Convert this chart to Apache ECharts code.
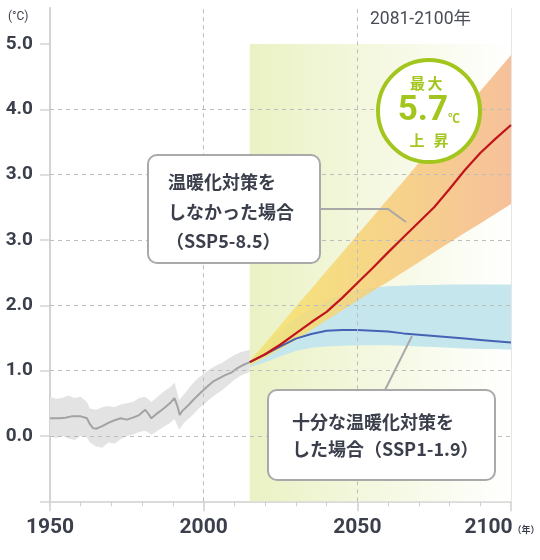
<!DOCTYPE html>
<html><head><meta charset="utf-8">
<script src="https://cdn.jsdelivr.net/npm/echarts@6/dist/echarts.min.js"></script>
<style>html,body{margin:0;padding:0;background:#fff}#c{width:540px;height:560px}</style>
</head><body><div id="c"></div>
<script>
// ---- data ----
const histYears = [1950,1953,1955,1957,1960,1962,1963,1964,1965,1967,1969,1971,1973,1975,1977,1979,1981,1982,1983,1985,1987,1989,1990.5,1991.5,1992.2,1993,1995,1997,1999,2001,2003,2005,2007,2009,2011,2013,2015];
const histMean  = [0.27,0.27,0.28,0.30,0.30,0.27,0.18,0.12,0.11,0.15,0.20,0.24,0.27,0.25,0.28,0.32,0.40,0.34,0.27,0.35,0.42,0.50,0.58,0.45,0.32,0.38,0.47,0.57,0.66,0.75,0.83,0.88,0.93,0.97,1.04,1.09,1.13];
const histBandYears = [1950,1952,1954,1956,1958,1960,1962,1963,1965,1967,1969,1971,1973,1975,1977,1979,1981,1983,1985,1987,1989,1990.5,1992,1994,1996,1998,2000,2002,2004,2006,2008,2010,2012,2015];
const histHigh = [0.60,0.57,0.58,0.62,0.58,0.60,0.52,0.42,0.40,0.44,0.46,0.44,0.48,0.50,0.52,0.58,0.60,0.52,0.60,0.68,0.74,0.82,0.55,0.66,0.78,0.88,0.95,1.02,1.08,1.12,1.18,1.24,1.28,1.32];
const histLow  = [-0.01,-0.03,0.00,-0.04,-0.06,0.00,-0.02,-0.10,-0.16,-0.18,-0.10,-0.12,-0.05,0.00,0.02,0.06,0.08,0.02,0.08,0.14,0.20,0.26,0.10,0.22,0.30,0.40,0.48,0.56,0.64,0.70,0.78,0.86,0.92,0.98];

const projYears = [2015,2020,2025,2030,2035,2040,2045,2050,2055,2060,2065,2070,2075,2080,2085,2090,2095,2100];
const ssp585Mean = [1.13,1.25,1.40,1.57,1.74,1.90,2.11,2.34,2.57,2.81,3.04,3.27,3.50,3.78,4.07,4.33,4.55,4.76];
const ssp585High = [1.15,1.42,1.70,1.98,2.25,2.53,2.80,3.08,3.35,3.63,3.90,4.18,4.45,4.73,5.00,5.28,5.55,5.83];
const ssp585Low  = [1.08,1.20,1.33,1.47,1.62,1.77,1.92,2.07,2.22,2.36,2.51,2.66,2.81,2.96,3.11,3.25,3.40,3.55];
const ssp119Mean = [1.13,1.25,1.37,1.49,1.56,1.61,1.62,1.62,1.61,1.60,1.57,1.55,1.53,1.51,1.49,1.47,1.45,1.43];
const ssp119High = [1.15,1.40,1.62,1.80,1.96,2.08,2.17,2.23,2.27,2.29,2.30,2.31,2.31,2.32,2.32,2.32,2.32,2.32];
const ssp119Low  = [1.05,1.13,1.22,1.30,1.35,1.37,1.38,1.39,1.39,1.39,1.38,1.37,1.36,1.35,1.34,1.33,1.33,1.32];

const yTickValues = [0,1,2,3,4,5,6];
const yTickLabels = ['0.0','1.0','2.0','3.0','3.0','4.0','5.0'];
const gridValues = [0,1,2,3,4,5];
const xGridYears = [2000,2050];
const periodStart = 2015, periodEnd = 2100, periodTop = 6;

// ---- styles ----
const TXT = '#3a3f4b';
const LIME = '#a3c61e';
const FONT_NUM = 'Roboto, "Noto Sans CJK JP", sans-serif';
const FONT_JP = '"Noto Sans CJK JP", sans-serif';

function zip(xs, ys){ return xs.map((x,i)=>[x, ys[i]]); }
function bandSeries(name, years, low, high, fill, z){
  return {
    type:'custom', name, z, silent:true, animation:false,
    data:[[years[0], low[0]]],
    renderItem:function(params, api){
      const pts = [];
      for (let i=0;i<years.length;i++) pts.push(api.coord([years[i], high[i]]));
      for (let i=years.length-1;i>=0;i--) pts.push(api.coord([years[i], low[i]]));
      return {type:'polygon', shape:{points:pts}, style:{fill: fill}};
    }
  };
}

const chart = echarts.init(document.getElementById('c'), null, {renderer:'canvas'});
const option = {
  animation:false,
  backgroundColor:'#fff',
  grid:{left:50, right:29, top:8, bottom:58.7, outerBoundsMode:'none', containLabel:false},
  xAxis:{
    type:'value', min:1950, max:2100, interval:50,
    axisLine:{show:true, onZero:false, lineStyle:{color:'#cfcfcf', width:1.5}},
    axisTick:{show:true, length:10, lineStyle:{color:'#cfcfcf', width:1.5}},
    minorTick:{show:true, splitNumber:5, length:5, lineStyle:{color:'#cfcfcf', width:1}},
    splitLine:{show:false}, minorSplitLine:{show:false},
    axisLabel:{
      margin:16,
      formatter:function(v){ return v===2100 ? '{b|'+v+'}{u|（年）}' : '{b|'+v+'}'; },
      rich:{
        b:{fontSize:21, fontWeight:'bold', color:TXT, fontFamily:FONT_NUM},
        u:{fontSize:9, fontWeight:'bold', color:TXT, fontFamily:FONT_JP, verticalAlign:'middle', padding:[3,18,0,0]}
      }
    }
  },
  yAxis:{
    type:'value', min:-1, max:6.55, interval:1,
    axisLine:{show:true, onZero:false, lineStyle:{color:'#d3d3d3', width:2}},
    axisTick:{show:true, length:10, customValues:[-1].concat(yTickValues), lineStyle:{color:'#d3d3d3', width:1.5}},
    axisLabel:{
      customValues: yTickValues,
      margin:17, fontSize:19, fontWeight:'bold', color:TXT, fontFamily:FONT_NUM,
      formatter:function(v){ const i = yTickValues.indexOf(Math.round(v)); return i>=0 ? yTickLabels[i] : ''; }
    },
    splitLine:{show:false}
  },
  series:[
    {
      type:'line', name:'period', z:1, silent:true, data:[],
      markArea:{
        silent:true,
        itemStyle:{color:new echarts.graphic.LinearGradient(0,0,1,0,[
          {offset:0, color:'rgba(234,242,196,1)'},
          {offset:0.5, color:'rgba(245,248,225,1)'},
          {offset:1, color:'rgba(255,255,255,1)'}
        ])},
        data:[[{xAxis:periodStart, yAxis:periodTop},{xAxis:periodEnd, yAxis:-1}]]
      }
    },
    bandSeries('histBand', histBandYears, histLow, histHigh, '#e3e3e3', 2),
    bandSeries('ssp119Band', projYears, ssp119Low, ssp119High, 'rgba(198,230,238,1)', 2),
    bandSeries('ssp585Band', projYears, ssp585Low, ssp585High, new echarts.graphic.LinearGradient(0,0,1,0,[
      {offset:0, color:'rgba(248,228,104,0.82)'},
      {offset:0.55, color:'rgba(246,204,122,0.85)'},
      {offset:1, color:'rgba(245,184,140,0.88)'}
    ]), 2),
    {
      type:'line', name:'grid', z:3, silent:true, data:[],
      markLine:{
        silent:true, symbol:'none', label:{show:false},
        lineStyle:{color:'#bdbdbd', type:[4,4], width:1},
        data: gridValues.map(v=>({yAxis:v})).concat(xGridYears.map(v=>({xAxis:v})))
                .concat([{xAxis:periodEnd, lineStyle:{color:'#e6e6e6', type:'solid', width:1}}])
      }
    },
    {type:'line', name:'hist', z:4, data:zip(histYears, histMean), showSymbol:false, symbol:'none',
     lineStyle:{color:'#a3a3a3', width:2}},
    {type:'line', name:'SSP1-1.9', z:4, data:zip(projYears, ssp119Mean), showSymbol:false, symbol:'none',
     lineStyle:{color:'#4562b5', width:2}},
    {type:'line', name:'SSP5-8.5', z:5, data:zip(projYears, ssp585Mean), showSymbol:false, symbol:'none',
     lineStyle:{color:'#c2141b', width:2.2}}
  ],
  graphic:[
    {type:'text', z:100, left:8, top:11, style:{text:'(°C)', fontSize:12, fill:TXT, fontFamily:FONT_NUM}},
    {type:'text', z:100, left:370, top:11, style:{text:'2081-2100年', fontSize:17.5, fill:'#4a4d57', fontFamily:FONT_NUM}},
    // max circle
    {type:'circle', z:100, shape:{cx:429, cy:111, r:51}, style:{fill:'#fff', stroke:LIME, lineWidth:4}},
    {type:'text', z:101, x:417.5, y:83, style:{text:'最', fontSize:15, fontWeight:'bold', fill:LIME, fontFamily:FONT_JP, align:'center', verticalAlign:'middle'}},
    {type:'text', z:101, x:435, y:83, style:{text:'大', fontSize:15, fontWeight:'bold', fill:LIME, fontFamily:FONT_JP, align:'center', verticalAlign:'middle'}},
    {type:'text', z:101, x:448, y:111, style:{text:'5.7', fontSize:35, fontWeight:'bold', fill:LIME, fontFamily:FONT_NUM, align:'right', verticalAlign:'middle'}},
    {type:'text', z:101, x:448, y:118, style:{text:'℃', fontSize:12, fontWeight:'bold', fill:LIME, fontFamily:FONT_JP, align:'left', verticalAlign:'middle'}},
    {type:'text', z:101, x:417, y:140, style:{text:'上', fontSize:15, fontWeight:'bold', fill:LIME, fontFamily:FONT_JP, align:'center', verticalAlign:'middle'}},
    {type:'text', z:101, x:441, y:140, style:{text:'昇', fontSize:15, fontWeight:'bold', fill:LIME, fontFamily:FONT_JP, align:'center', verticalAlign:'middle'}},
    // connector lines
    {type:'polyline', z:99, shape:{points:[[320,209],[388,209],[406,222]]}, style:{stroke:'#a8a8a8', lineWidth:2, fill:null}},
    {type:'polyline', z:99, shape:{points:[[412,336],[385,390]]}, style:{stroke:'#a8a8a8', lineWidth:2, fill:null}},
    // callout 1
    {type:'rect', z:100, shape:{x:148, y:155, width:172, height:108, r:9}, style:{fill:'#fff', stroke:'#a9a9a9', lineWidth:2}},
    {type:'text', z:101, x:168, y:182, style:{text:'温暖化対策を', fontSize:18, fontWeight:'bold', fill:TXT, fontFamily:FONT_JP, verticalAlign:'middle'}},
    {type:'text', z:101, x:168, y:212.5, style:{text:'しなかった場合', fontSize:18, fontWeight:'bold', fill:TXT, fontFamily:FONT_JP, verticalAlign:'middle'}},
    {type:'text', z:101, x:166, y:241, style:{text:'（SSP5-8.5）', fontSize:18, fontWeight:'bold', fill:TXT, fontFamily:FONT_JP, verticalAlign:'middle'}},
    // callout 2
    {type:'rect', z:100, shape:{x:268, y:390, width:227, height:90, r:9}, style:{fill:'#fff', stroke:'#a9a9a9', lineWidth:2}},
    {type:'text', z:101, x:292, y:422, style:{text:'十分な温暖化対策を', fontSize:18, fontWeight:'bold', fill:TXT, fontFamily:FONT_JP, verticalAlign:'middle'}},
    {type:'text', z:101, x:292, y:449.5, style:{text:'した場合（SSP1-1.9）', fontSize:18, fontWeight:'bold', fill:TXT, fontFamily:FONT_JP, verticalAlign:'middle'}}
  ]
};
chart.setOption(option);
</script>
</body></html>
